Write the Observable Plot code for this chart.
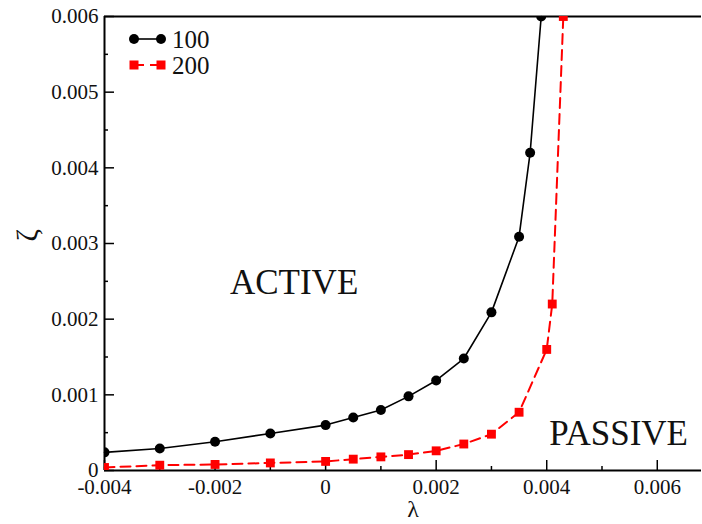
<!DOCTYPE html>
<html>
<head>
<meta charset="utf-8">
<script src="https://cdn.jsdelivr.net/npm/d3@7"></script>
<script src="https://cdn.jsdelivr.net/npm/@observablehq/plot@0.6"></script>
<style>
  body { margin: 0; background: #fff; }
  #chart svg { display: block; }
</style>
</head>
<body>
<div id="chart"></div>
<script>
// ---- data ----
const lambda100 = [-0.004, -0.003, -0.002, -0.001, 0, 0.0005, 0.001, 0.0015, 0.002, 0.0025, 0.003, 0.0035, 0.0037, 0.0039];
const zeta100   = [0.00024, 0.00029, 0.00038, 0.00049, 0.0006, 0.0007, 0.0008, 0.00098, 0.00119, 0.00148, 0.00209, 0.00309, 0.0042, 0.006];
const lambda200 = [-0.004, -0.003, -0.002, -0.001, 0, 0.0005, 0.001, 0.0015, 0.002, 0.0025, 0.003, 0.0035, 0.004, 0.0041, 0.0043];
const zeta200   = [0.00004, 0.00007, 0.00008, 0.0001, 0.00012, 0.00015, 0.00018, 0.00021, 0.00026, 0.00035, 0.00048, 0.00077, 0.0016, 0.0022, 0.006];
const seriesNames = ["100", "200"];
const xDomain = [-0.004, 0.0068];
const yDomain = [0, 0.006];
const xMajorTicks = [-0.004, -0.002, 0, 0.002, 0.004, 0.006];
const xMinorTicks = [-0.003, -0.001, 0.001, 0.003, 0.005];
const yMajorTicks = [0, 0.001, 0.002, 0.003, 0.004, 0.005, 0.006];
const yMinorTicks = [0.0005, 0.0015, 0.0025, 0.0035, 0.0045, 0.0055];
const regionLabels = [
  {text: "ACTIVE", x: -0.00057, y: 0.00248},
  {text: "PASSIVE", x: 0.0053, y: 0.00049}
];

// ---- layout ----
const W = 702, H = 524;
const mL = 104, mR = 1, mT = 16, mB = 54;
const innerW = W - mL - mR, innerH = H - mT - mB;
const FONT = "'Liberation Serif', 'DejaVu Serif', serif";

const s100 = lambda100.map((x, i) => ({x, y: zeta100[i], s: seriesNames[0]}));
const s200 = lambda200.map((x, i) => ({x, y: zeta200[i], s: seriesNames[1]}));
const fmt = d => d === 0 ? "0" : d.toFixed(3);

const plot = Plot.plot({
  width: W, height: H,
  marginLeft: mL, marginRight: mR, marginTop: mT, marginBottom: mB,
  style: {fontFamily: FONT, fontSize: "20px", color: "#111", background: "#fff"},
  x: {domain: xDomain},
  y: {domain: yDomain},
  marks: [
    Plot.axisX(xMajorTicks, {tickSize: 0, tickPadding: 9, tickFormat: fmt, label: null, fontSize: 21}),
    Plot.axisY(yMajorTicks, {tickSize: 0, tickPadding: 6, tickFormat: fmt, label: null, fontSize: 21}),
    // inward ticks
    Plot.ruleX(xMajorTicks, {x: d => d, insetTop: innerH - 10, stroke: "#000", strokeWidth: 1.5}),
    Plot.ruleX(xMinorTicks, {x: d => d, insetTop: innerH - 4, stroke: "#000", strokeWidth: 1.5}),
    Plot.ruleY(yMajorTicks, {y: d => d, insetRight: innerW - 10, stroke: "#000", strokeWidth: 1.5}),
    Plot.ruleY(yMinorTicks, {y: d => d, insetRight: innerW - 4, stroke: "#000", strokeWidth: 1.5}),
    // frame (left, bottom, top)
    Plot.ruleX([xDomain[0]], {stroke: "#000", strokeWidth: 2}),
    Plot.ruleY(yDomain, {stroke: "#000", strokeWidth: 2}),
    // series
    Plot.line(s200, {x: "x", y: "y", stroke: "#ff0000", strokeWidth: 2, strokeDasharray: "10,6"}),
    Plot.dot(s200, {x: "x", y: "y", symbol: "square", r: 5, fill: "#ff0000", stroke: "none", clip: true}),
    Plot.line(s100, {x: "x", y: "y", stroke: "#000", strokeWidth: 1.6}),
    Plot.dot(s100, {x: "x", y: "y", r: 5, fill: "#000", stroke: "none", clip: true}),
    // region labels
    Plot.text(regionLabels, {x: "x", y: "y", text: "text", fontSize: 35, fill: "#111", textAnchor: "middle", lineAnchor: "middle", fontFamily: FONT}),
    // axis labels
    Plot.text(["λ"], {frameAnchor: "bottom", dx: 10, dy: 39, fontSize: 24, fill: "#111", lineAnchor: "middle"}),
    Plot.text(["ζ"], {frameAnchor: "left", dx: -77, dy: -2, rotate: -90, fontSize: 30, fill: "#111", lineAnchor: "middle"})
  ]
});

// legend (pixel layout, inside plot area)
const svg = d3.select(plot);
const leg = svg.append("g").attr("font-family", FONT).attr("font-size", 25).attr("fill", "#111").attr("text-anchor", "start");
const legendItems = [
  {name: seriesNames[0], color: "#000", dash: null, symbol: "circle", y: 39},
  {name: seriesNames[1], color: "#ff0000", dash: "10,6", symbol: "square", y: 65}
];
legendItems.forEach(item => {
  leg.append("line").attr("x1", 134).attr("x2", 161).attr("y1", item.y).attr("y2", item.y)
    .attr("stroke", item.color).attr("stroke-width", item.dash ? 2 : 1.6)
    .attr("stroke-dasharray", item.dash);
  [134, 161].forEach(cx => {
    if (item.symbol === "circle") {
      leg.append("circle").attr("cx", cx).attr("cy", item.y).attr("r", 5).attr("fill", item.color);
    } else {
      leg.append("rect").attr("x", cx - 4.5).attr("y", item.y - 4.5).attr("width", 9).attr("height", 9).attr("fill", item.color);
    }
  });
  leg.append("text").attr("x", 172).attr("y", item.y + 9).attr("text-anchor", "start").text(item.name);
});

document.getElementById("chart").appendChild(plot);
</script>
</body>
</html>
